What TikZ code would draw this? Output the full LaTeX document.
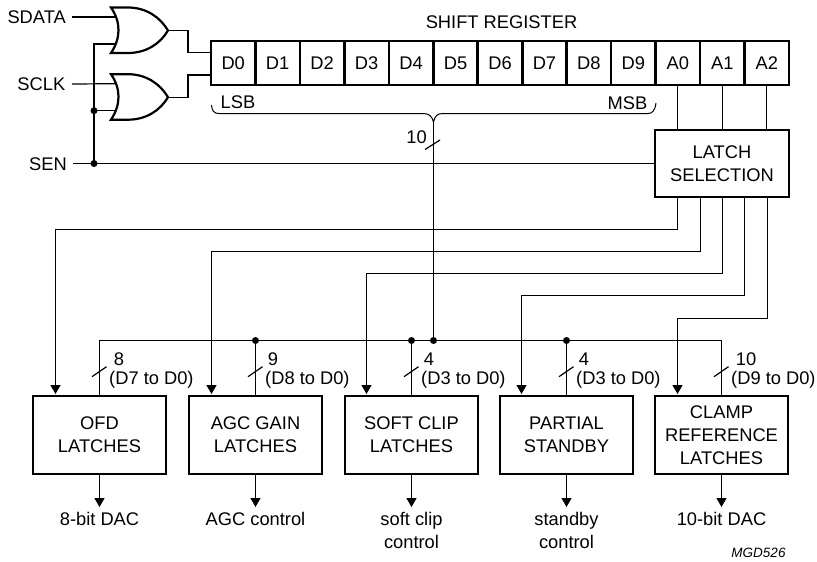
\documentclass[tikz,border=0pt]{standalone}
\usepackage{fontspec}
\setmainfont{Liberation Sans}
\usetikzlibrary{arrows.meta}
\tikzset{
  wire/.style={line width=1.2pt,line join=miter},
  arrowwire/.style={wire,-{Triangle[width=10pt,length=9pt]}},
  thick box/.style={draw,line width=2.6pt,inner sep=0pt,align=center,font=\fontsize{18.3}{22.7}\selectfont},
  cell/.style={thick box,minimum width=44.46pt,minimum height=44pt},
  latchbox/.style={thick box,minimum width=133pt,minimum height=78pt},
  gatepath/.style={line width=2.2pt,line join=miter,fill=white},
  txt/.style={inner sep=0pt,align=center,font=\fontsize{18.3}{22.7}\selectfont},
  dotmark/.style={circle,fill=black,inner sep=0pt,minimum size=7pt},
}
\begin{document}
\begin{tikzpicture}[x=1pt,y=-1pt]
\useasboundingbox (0,0) rectangle (817,562);
% labels
\node[txt,anchor=east] (sdata) at (66,17) {SDATA};
\node[txt,anchor=east] (sclk) at (65.5,84) {SCLK};
\node[txt,anchor=east] (sen) at (67,164) {SEN};
\node[txt] (title) at (501.5,22) {SHIFT REGISTER};
% register
\foreach \n [count=\i from 0] in {D0,D1,D2,D3,D4,D5,D6,D7,D8,D9,A0,A1,A2}
  \node[cell] (c\i) at ({211+44.46*(\i+0.5)},63) {\n};
\node[txt] (lsb) at (238,102.5) {LSB};
\node[txt] (msb) at (627.5,103) {MSB};
% latch selection
\node[thick box,minimum width=134pt,minimum height=67pt] (sel) at (722,163.5) {LATCH\\SELECTION};
% latches
\node[latchbox] (ofd) at (99.5,435) {OFD\\LATCHES};
\node[latchbox] (agc) at (255.5,435) {AGC GAIN\\LATCHES};
\node[latchbox] (soft) at (411.5,435) {SOFT CLIP\\LATCHES};
\node[latchbox] (part) at (566.5,435) {PARTIAL\\STANDBY};
\node[latchbox] (clamp) at (721.5,435) {CLAMP\\REFERENCE\\LATCHES};
% outputs
\node[txt,anchor=north] (o1) at (99.5,512) {8-bit DAC};
\node[txt,anchor=north] (o2) at (255.5,512) {AGC control};
\node[txt,anchor=north] (o3) at (411.5,512) {soft clip\\control};
\node[txt,anchor=north] (o4) at (566.5,512) {standby\\control};
\node[txt,anchor=north] (o5) at (721.5,512) {10-bit DAC};
\node[inner sep=0pt,font=\fontsize{13.5}{14}\selectfont\itshape] (code) at (758.5,553) {MGD526};
\foreach \b/\o in {ofd/o1,agc/o2,soft/o3,part/o4,clamp/o5}
  \draw[arrowwire] (\b.south) -- (\b.south |- 0,507);
% gates
\foreach \g/\dy in {g1/0,g2/66.7}{
  \begin{scope}[yshift=-\dy pt]
    \coordinate (\g a) at (94,44);
    \coordinate (\g i) at (117,17);
    \coordinate (\g j) at (117,44);
    \coordinate (\g o) at (168,30.5);
  \end{scope}
}
% wires behind gates
\coordinate (dotB) at (94,110.7);
\coordinate (dotS) at (94,163.5);
\draw[wire] (sdata.east -| 72,0) -- (g1i);
\draw[wire] (sclk.east -| 72,0) -- (g2i);
\draw[wire] (g1j) -| (dotS);
\draw[wire] (dotB) -- (g2j);
\draw[wire] (73,163.5) -- (sel.west |- dotS);
% gate bodies
\foreach \dy in {0,66.7}{
  \begin{scope}[yshift=-\dy pt]
    \draw[gatepath] (111,7.5) -- (128,7.5) .. controls (146,7.5) and (160,17) .. (168,30.5)
      .. controls (160,44) and (146,53) .. (128,53) -- (111,53)
      .. controls (121,38) and (121,22) .. (111,7.5) -- cycle;
  \end{scope}
}
\draw[wire] (g1o) -- (188,30.5) -- (188,52.5) -- (c0.west |- 0,52.5);
\draw[wire] (g2o) -- (188,97.2) -- (188,75) -- (c0.west |- 0,75);
\node[dotmark] (d1) at (dotB) {};
\node[dotmark] (d2) at (dotS) {};
% brace
\draw[wire,line width=1pt] (211.5,105) .. controls (212,111) and (214,113.5) .. (219,113.5) -- (423,113.5)
  .. controls (429,113.5) and (432,116) .. (433.5,122)
  .. controls (435,116) and (437,113.5) .. (443,113.5) -- (648,113.5)
  .. controls (652,113.5) and (655,111) .. (656,103);
% A-lines to selection
\foreach \i in {10,11,12}
  \draw[wire] (c\i.south) -- (c\i.south |- sel.north);
% data bus
\coordinate (busT) at (433.5,122);
\coordinate (busJ) at (433.5,340.5);
\draw[wire] (busT) -- (busJ);
\draw[wire] (425,149.5) -- (440,140);
\node[txt,anchor=east] (n10) at (427,137) {10};
% horizontal bus and drops
\draw[wire] (ofd.north) |- (clamp.north |- busJ) -- (clamp.north);
\foreach \b in {agc,soft,part}{
  \draw[wire] (\b.north |- busJ) -- (\b.north);
  \node[dotmark] (dot\b) at (\b.north |- busJ) {};
}
\node[dotmark] (dotbus) at (busJ) {};
% selection outputs
\draw[arrowwire] (677.5,197) |- (55.5,229.5) -- (55.5,394);
\draw[arrowwire] (700.5,197) |- (211.5,251.5) -- (211.5,394);
\draw[arrowwire] (722.5,197) |- (366.5,273.5) -- (366.5,394);
\draw[arrowwire] (744.5,197) |- (521.5,295.5) -- (521.5,394);
\draw[arrowwire] (767.5,197) |- (677.5,318.5) -- (677.5,394);
% width ticks and labels
\foreach \b/\w/\r/\nx in {ofd/8/D7/119,agc/9/D8/273,soft/4/D3/429,part/4/D3/584,clamp/10/D9/746}{
  \draw[wire] ([xshift=-7.5pt,yshift=18pt]\b.north) -- ([xshift=7pt,yshift=28pt]\b.north);
  \node[txt] at (\nx,359.5) {\w};
  \node[txt,anchor=west] at ([xshift=9.5pt,yshift=15pt]\b.north) {(\r\ to D0)};
}
\end{tikzpicture}
\end{document}
